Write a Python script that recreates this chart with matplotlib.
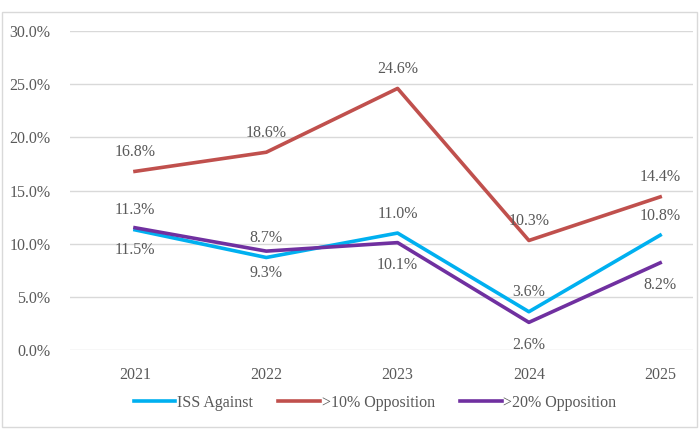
import matplotlib.pyplot as plt
import matplotlib.patches as patches
from matplotlib.ticker import FuncFormatter

# data
years = ['2021', '2022', '2023', '2024', '2025']
iss_against = [11.3, 8.7, 11.0, 3.6, 10.8]
opp_10 = [16.8, 18.6, 24.6, 10.3, 14.4]
opp_20 = [11.5, 9.3, 10.1, 2.6, 8.2]

plt.rcParams['font.family'] = ['Liberation Serif', 'DejaVu Serif']
txt = '#595959'
fs = 11.5

fig = plt.figure(figsize=(7, 4.41), dpi=100)
ax = fig.add_axes([0.1, 0.2063, 0.89, 0.7234])

x = list(range(len(years)))
ax.plot(x, iss_against, color='#00B0F0', lw=2.6, label='ISS Against', solid_joinstyle='round')
ax.plot(x, opp_10, color='#C0504D', lw=2.6, label='>10% Opposition', solid_joinstyle='round')
ax.plot(x, opp_20, color='#7030A0', lw=2.6, label='>20% Opposition', solid_joinstyle='round')

# data labels: ISS and >10% above, >20% below
for i in x:
    ax.annotate('%.1f%%' % opp_10[i], (i, opp_10[i]), xytext=(0, 14), textcoords='offset points',
                ha='center', va='center', fontsize=fs, color=txt)
    ax.annotate('%.1f%%' % iss_against[i], (i, iss_against[i]), xytext=(0, 14), textcoords='offset points',
                ha='center', va='center', fontsize=fs, color=txt)
    ax.annotate('%.1f%%' % opp_20[i], (i, opp_20[i]), xytext=(0, -16), textcoords='offset points',
                ha='center', va='center', fontsize=fs, color=txt)

ax.set_ylim(0, 30)
ax.set_yticks([0, 5, 10, 15, 20, 25, 30])
ax.yaxis.set_major_formatter(FuncFormatter(lambda v, p: '%.1f%%' % v))
ax.set_xlim(-0.495, 4.25)
ax.set_xticks(x)
ax.set_xticklabels(years)
ax.tick_params(length=0, labelsize=fs, colors=txt)
ax.tick_params(axis='y', pad=14)
ax.tick_params(axis='x', pad=12)
ax.grid(axis='y', color='#D9D9D9', lw=1)
ax.set_axisbelow(True)
for s in ax.spines.values():
    s.set_visible(False)

fig.legend(loc='center', bbox_to_anchor=(0.536, 0.086), ncol=3, frameon=False,
           fontsize=fs, labelcolor=txt, handlelength=2.6, columnspacing=1.6, handletextpad=0.1)

# outer chart border
fig.patches.append(patches.Rectangle((2 / 700, 1 - 427 / 441), 695 / 700, 415 / 441,
                                     transform=fig.transFigure, fill=False,
                                     edgecolor='#D9D9D9', lw=1))

fig.savefig('out.png', dpi=100)
